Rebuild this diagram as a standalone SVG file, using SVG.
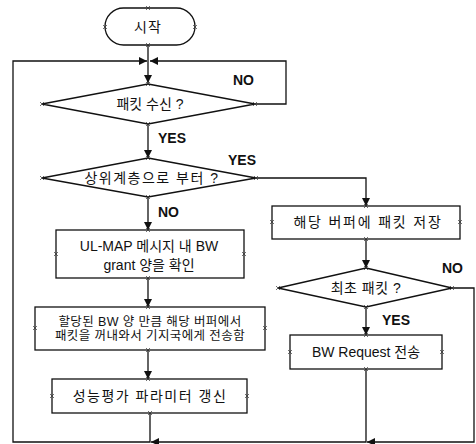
<svg xmlns="http://www.w3.org/2000/svg" xmlns:xlink="http://www.w3.org/1999/xlink" width="476" height="444" viewBox="0 0 476 444">
<style>
.shape{fill:#fff;stroke:#111;stroke-width:1.3}
.line{fill:none;stroke:#111;stroke-width:1.3}
.t{font-family:"Liberation Sans","Noto Sans CJK KR",sans-serif;font-size:14px;fill:#111;text-anchor:middle;dominant-baseline:central}
.s{font-size:12.5px}
.lbl{font-family:"Liberation Sans",sans-serif;font-size:14px;font-weight:bold;fill:#111}
.x{fill:none;stroke:#333;stroke-width:0.7}
</style>
<defs>
<marker id="arr" viewBox="0 0 10 10" refX="10" refY="5" markerWidth="8" markerHeight="8" markerUnits="userSpaceOnUse" orient="auto">
<path d="M0,0 L10,5 L0,10 z" fill="#111"/>
</marker>
<path id="xm" class="x" d="M-2,-2 L2,2 M-2,2 L2,-2"/>
</defs>
<rect width="476" height="444" fill="#fff"/>
<g id="connectors">
<path class="line" d="M148,45 V83" marker-end="url(#arr)"/>
<path class="line" d="M150,413 V442 H13 V61 H147" marker-end="url(#arr)"/>
<path class="line" d="M255,104 H286 V61 H150" marker-end="url(#arr)"/>
<path class="line" d="M148,124 V158" marker-end="url(#arr)"/>
<path class="line" d="M256,178 H366 V206" marker-end="url(#arr)"/>
<path class="line" d="M148,197 V230" marker-end="url(#arr)"/>
<path class="line" d="M148,278 V307" marker-end="url(#arr)"/>
<path class="line" d="M148,350 V379" marker-end="url(#arr)"/>
<path class="line" d="M366,239 V268" marker-end="url(#arr)"/>
<path class="line" d="M366,307 V335" marker-end="url(#arr)"/>
<path class="line" d="M452,288 H474 V442 H367" marker-end="url(#arr)"/>
<path class="line" d="M366,369 V442 H151" marker-end="url(#arr)"/>
<text class="lbl" x="233" y="85">NO</text>
<text class="lbl" x="158" y="143">YES</text>
<text class="lbl" x="228" y="165">YES</text>
<text class="lbl" x="158" y="217">NO</text>
<text class="lbl" x="442" y="273">NO</text>
<text class="lbl" x="382" y="325">YES</text>
</g>
<g id="start">
<rect class="shape" x="105" y="8" width="90" height="37" rx="18.5"/>
<text class="t" x="148" y="27" letter-spacing="1">시작</text>
<use href="#xm" x="148" y="8"/><use href="#xm" x="105" y="27"/><use href="#xm" x="195" y="27"/><use href="#xm" x="148" y="45"/>
</g>
<g id="d1">
<polygon class="shape" points="148,84 255,104 148,124 42,104"/>
<text class="t" x="150" y="104">패킷 수신 ?</text>
<use href="#xm" x="148" y="84"/><use href="#xm" x="42" y="104"/><use href="#xm" x="255" y="104"/><use href="#xm" x="148" y="124"/>
</g>
<g id="d2">
<polygon class="shape" points="148,158 256,178 148,197 42,178"/>
<text class="t" x="152" y="178" letter-spacing="1.5">상위계층으로 부터 ?</text>
<use href="#xm" x="148" y="158"/><use href="#xm" x="42" y="178"/><use href="#xm" x="256" y="178"/><use href="#xm" x="148" y="197"/>
</g>
<g id="b_ulmap">
<rect class="shape" x="56" y="230" width="188" height="48"/>
<text class="t" x="149" y="246" font-size="15">UL-MAP 메시지 내 BW</text>
<text class="t" x="149" y="265" font-size="15">grant 양을 확인</text>
<use href="#xm" x="148" y="230"/><use href="#xm" x="56" y="254"/><use href="#xm" x="244" y="254"/><use href="#xm" x="148" y="278"/>
</g>
<g id="b_send">
<rect class="shape" x="35" y="307" width="230" height="43"/>
<text class="t s" x="150" y="322" letter-spacing="0.4">할당된 BW 양 만큼 해당 버퍼에서</text>
<text class="t s" x="150" y="336" letter-spacing="0.4">패킷을 꺼내와서 기지국에게 전송함</text>
<use href="#xm" x="148" y="307"/><use href="#xm" x="35" y="328"/><use href="#xm" x="265" y="328"/><use href="#xm" x="148" y="350"/>
</g>
<g id="b_perf">
<rect class="shape" x="52" y="379" width="195" height="34"/>
<text class="t" x="150" y="396" letter-spacing="1.5">성능평가 파라미터 갱신</text>
<use href="#xm" x="148" y="379"/><use href="#xm" x="52" y="396"/><use href="#xm" x="247" y="396"/><use href="#xm" x="150" y="413"/>
</g>
<g id="b_store">
<rect class="shape" x="272" y="206" width="188" height="33"/>
<text class="t" x="368" y="222" letter-spacing="1.8">해당 버퍼에 패킷 저장</text>
<use href="#xm" x="366" y="206"/><use href="#xm" x="272" y="222"/><use href="#xm" x="460" y="222"/><use href="#xm" x="366" y="239"/>
</g>
<g id="d3">
<polygon class="shape" points="366,268 452,288 366,307 278,288"/>
<text class="t" x="366" y="288" letter-spacing="0.5">최초 패킷 ?</text>
<use href="#xm" x="366" y="268"/><use href="#xm" x="278" y="288"/><use href="#xm" x="452" y="288"/><use href="#xm" x="366" y="307"/>
</g>
<g id="b_req">
<rect class="shape" x="290" y="335" width="152" height="34"/>
<text class="t" x="366" y="352" font-size="15">BW Request 전송</text>
<use href="#xm" x="366" y="335"/><use href="#xm" x="290" y="352"/><use href="#xm" x="442" y="352"/><use href="#xm" x="366" y="369"/>
</g>
</svg>
